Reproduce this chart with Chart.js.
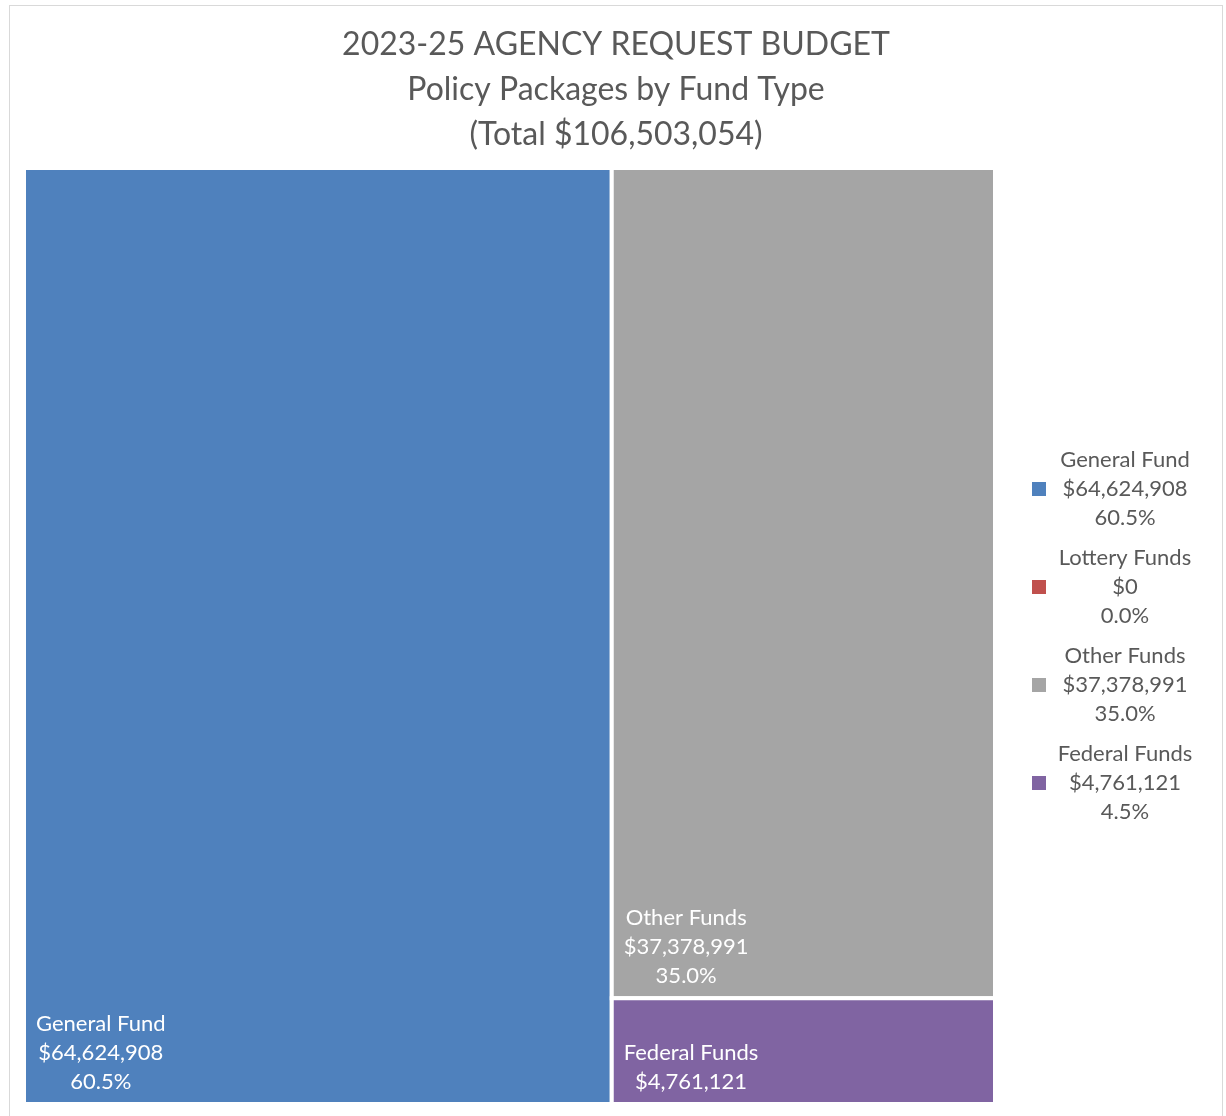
<!DOCTYPE html>
<html lang="en">
<head>
    <meta charset="UTF-8">
    <title>2023-25 Agency Request Budget</title>
    <script src="https://cdn.jsdelivr.net/npm/chart.js"></script>
    <style>
        body { margin: 0; background: #fff; }
    </style>
</head>
<body>
    <canvas id="budgetChart" width="1226" height="1116"></canvas>
    <script>
        // chart data
        var titleLines = ['2023-25 AGENCY REQUEST BUDGET', 'Policy Packages by Fund Type', '(Total $106,503,054)'];
        var funds = ['General Fund', 'Lottery Funds', 'Other Funds', 'Federal Funds'];
        var amounts = [64624908, 0, 37378991, 4761121];
        var colors = ['#4F81BD', '#C0504D', '#A5A5A5', '#8064A2'];

        var FONT = 'Lato, "Open Sans", sans-serif';
        var total = amounts.reduce(function (a, b) { return a + b; }, 0);

        function money(v) { return '$' + v.toLocaleString('en-US'); }
        function pct(v) { return (v / total * 100).toFixed(1) + '%'; }

        // squarified layout, worked out in a w x h box
        function squarify(items, w, h) {
            var out = [];
            var x = 0, y = 0;
            var scale = (w * h) / items.reduce(function (a, it) { return a + it.value; }, 0);
            var rest = items.map(function (it) { return { i: it.i, area: it.value * scale }; });
            function worst(row, side) {
                var s = row.reduce(function (a, r) { return a + r.area; }, 0);
                var m = 0;
                row.forEach(function (r) {
                    var t = s / side, l = r.area / t;
                    m = Math.max(m, t / l, l / t);
                });
                return m;
            }
            while (rest.length) {
                var side = Math.min(w, h);
                var row = [rest.shift()];
                while (rest.length && worst(row.concat([rest[0]]), side) <= worst(row, side)) {
                    row.push(rest.shift());
                }
                var s = row.reduce(function (a, r) { return a + r.area; }, 0);
                var thick = s / side;
                var pos = 0;
                row.forEach(function (r) {
                    var len = r.area / thick;
                    if (w >= h) {
                        out.push({ i: r.i, x0: x, y0: y + pos, x1: x + thick, y1: y + pos + len });
                    } else {
                        out.push({ i: r.i, x0: x + pos, y0: y, x1: x + pos + len, y1: y + thick });
                    }
                    pos += len;
                });
                if (w >= h) { x += thick; w -= thick; } else { y += thick; h -= thick; }
            }
            return out;
        }

        var treemapPlugin = {
            id: 'treemap',
            beforeDatasetsDraw: function (chart) {
                var ctx = chart.ctx;
                var xs = chart.scales.x, ys = chart.scales.y;
                var area = chart.chartArea;
                var W = area.right - area.left, H = area.bottom - area.top;

                var items = [];
                amounts.forEach(function (v, i) { if (v > 0) items.push({ i: i, value: v }); });
                items.sort(function (a, b) { return b.value - a.value; });
                var rects = squarify(items, W, H);

                ctx.save();
                rects.forEach(function (r) {
                    var px0 = xs.getPixelForValue(r.x0 / W), px1 = xs.getPixelForValue(r.x1 / W);
                    var py0 = ys.getPixelForValue(r.y0 / H), py1 = ys.getPixelForValue(r.y1 / H);
                    ctx.fillStyle = colors[r.i];
                    ctx.fillRect(px0, py0, px1 - px0, py1 - py0);
                    ctx.strokeStyle = '#ffffff';
                    ctx.lineWidth = 4;
                    ctx.strokeRect(px0, py0, px1 - px0, py1 - py0);

                    // data label, bottom-left, lines centred on the widest one
                    var lines = [funds[r.i], money(amounts[r.i]), pct(amounts[r.i])];
                    var lh = 29;
                    var fit = Math.floor((py1 - py0 - 24) / lh);
                    ctx.font = '22px ' + FONT;
                    var bw = Math.max.apply(null, lines.map(function (t) { return ctx.measureText(t).width; }));
                    var cx = px0 + 12 + bw / 2;
                    var shown = lines.slice(0, Math.min(fit, lines.length));
                    ctx.fillStyle = '#ffffff';
                    ctx.textAlign = 'center';
                    ctx.textBaseline = 'middle';
                    var yb = py1 - 22;
                    var start = yb - (shown.length - 1) * lh;
                    shown.forEach(function (t, k) { ctx.fillText(t, cx, start + k * lh); });
                });
                ctx.restore();
            },
            afterDraw: function (chart) {
                var ctx = chart.ctx;
                var area = chart.chartArea;
                ctx.save();
                // outer frame
                ctx.strokeStyle = '#d9d9d9';
                ctx.lineWidth = 1;
                ctx.strokeRect(9.5, 5.5, 1213, 1130);

                // title
                ctx.fillStyle = '#595959';
                ctx.textAlign = 'center';
                ctx.textBaseline = 'middle';
                ctx.font = '32px ' + FONT;
                titleLines.forEach(function (t, k) { ctx.fillText(t, 616, 45 + k * 45); });

                // legend on the right
                var lh = 29, gap = 11;
                var groupH = 3 * lh;
                var fullH = funds.length * groupH + (funds.length - 1) * gap;
                var top = (area.top + area.bottom) / 2 - fullH / 2 + lh / 2;
                ctx.font = '22px ' + FONT;
                funds.forEach(function (name, i) {
                    var y0 = top + i * (groupH + gap);
                    ctx.fillStyle = colors[i];
                    ctx.fillRect(1032, y0 + lh - 7, 14, 14);
                    ctx.fillStyle = '#595959';
                    [name, money(amounts[i]), pct(amounts[i])].forEach(function (t, k) {
                        ctx.fillText(t, 1125, y0 + k * lh);
                    });
                });
                ctx.restore();
            }
        };

        const ctx = document.getElementById('budgetChart').getContext('2d');
        const budgetChart = new Chart(ctx, {
            type: 'scatter',
            data: {
                datasets: funds.map(function (f, i) {
                    return { label: f, data: [], backgroundColor: colors[i] };
                })
            },
            options: {
                responsive: false,
                animation: false,
                layout: { padding: { left: 24, right: 231, top: 168, bottom: 12 } },
                scales: {
                    x: { type: 'linear', min: 0, max: 1, display: false },
                    y: { type: 'linear', min: 0, max: 1, reverse: true, display: false }
                },
                plugins: {
                    legend: { display: false },
                    title: { display: false },
                    tooltip: { enabled: false }
                }
            },
            plugins: [treemapPlugin]
        });
    </script>
</body>
</html>
